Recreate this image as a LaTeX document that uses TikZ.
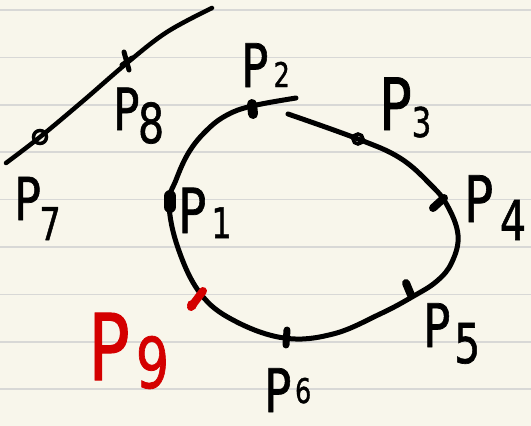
\documentclass[tikz,border=0pt]{standalone}
\usepackage{fontspec}
\setmainfont{DejaVu Sans}[FakeBold=1.2]
\definecolor{paper}{RGB}{248,246,235}
\definecolor{rulegrey}{RGB}{216,216,214}
\definecolor{redink}{RGB}{212,0,0}
\newcommand\plab[5]{\scalebox{0.75}[1]{\fontsize{#1}{#1}\selectfont P\hspace{#4}\raisebox{#5}{\fontsize{#3}{#3}\selectfont #2}}}
\begin{document}
\begin{tikzpicture}[x=1pt,y=-1pt,
  inkline/.style={line width=5pt, line cap=round, line join=round},
  tick/.style={line width=#1, line cap=round},
  lab/.style={inner sep=0pt, anchor=base west, text=black}]
\fill[paper] (0,0) rectangle (531,426);
\useasboundingbox (0,0) rectangle (531,426);
\foreach \k in {0,...,8} \draw[rulegrey, line width=1.6pt] (0,{10+47.4*\k}) -- (531,{10+47.4*\k});
% marker points
\coordinate (p1) at (169,204);
\coordinate (p2) at (252,106);
\coordinate (p3) at (358,139);
\coordinate (p4) at (447,205);
\coordinate (p5) at (412,297);
\coordinate (p6) at (284,338);
\coordinate (p7) at (40,137);
\coordinate (p8) at (127,63);
\coordinate (p9) at (200,293);
\coordinate (gapR) at (288,114);
\coordinate (gapL) at (296,98);
\coordinate (lineA) at (6,163);
\coordinate (lineB) at (212,8);
% closed curve with a gap at the top
\draw[inkline] plot[smooth, tension=0.65] coordinates {(gapR) (p3) (400,158) (430,184) (p4) (458,235) (452,262) (437,281) (p5) (380,314) (333,334) (p6) (233,320) (p9) (178,248) (p1) (176,180) (189,152) (207,130) (227,115) (p2) (gapL)};
% straight-ish line
\draw[line width=4.5pt, line cap=round, line join=round] plot[smooth, tension=0.6] coordinates {(lineA) (p7) (83,101) (p8) (167,32) (lineB)};
% markers
\draw[tick=10pt] (252,104) -- (253,114);
\draw[tick=12pt] (170,196) -- (170,207);
\draw[line width=3.5pt] (p3) circle (5);
\draw[tick=8pt] (433,208) -- (444,198);
\draw[tick=8pt] (406,283) -- (411,295);
\draw[tick=7pt] (287,330) -- (286,345);
\draw[line width=3.5pt] (p7) circle (6.5);
\draw[tick=5pt] (124,52) -- (129,70);
\draw[tick=5pt] (122,65) -- (132,58);
\draw[tick=8pt, redink] (191,307) -- (203,291);
\fill[redink] (192,305) circle (5);
% labels
\node[lab] (l2) at (241,87) {\plab{60}{2}{34}{7pt}{0pt}};
\node[lab] (l3) at (379,130) {\plab{72}{3}{41}{0pt}{-7pt}};
\node[lab] (l1) at (178,233) {\plab{62}{1}{42}{7pt}{-5pt}};
\node[lab] (l4) at (464,222) {\plab{64}{4}{55}{9pt}{-18pt}};
\node[lab] (l5) at (423,347) {\plab{60}{5}{55}{5pt}{-16pt}};
\node[lab] (l6) at (264,412) {\plab{60}{6}{34}{5pt}{9pt}};
\node[lab] (l7) at (14,220) {\plab{59}{7}{45}{-2pt}{-20pt}};
\node[lab] (l8) at (113,130) {\plab{58}{8}{55}{-2pt}{-13pt}};
\node[lab, text=redink] (l9) at (88,380) {\plab{92}{9}{70}{8pt}{-8pt}};
\end{tikzpicture}
\end{document}
